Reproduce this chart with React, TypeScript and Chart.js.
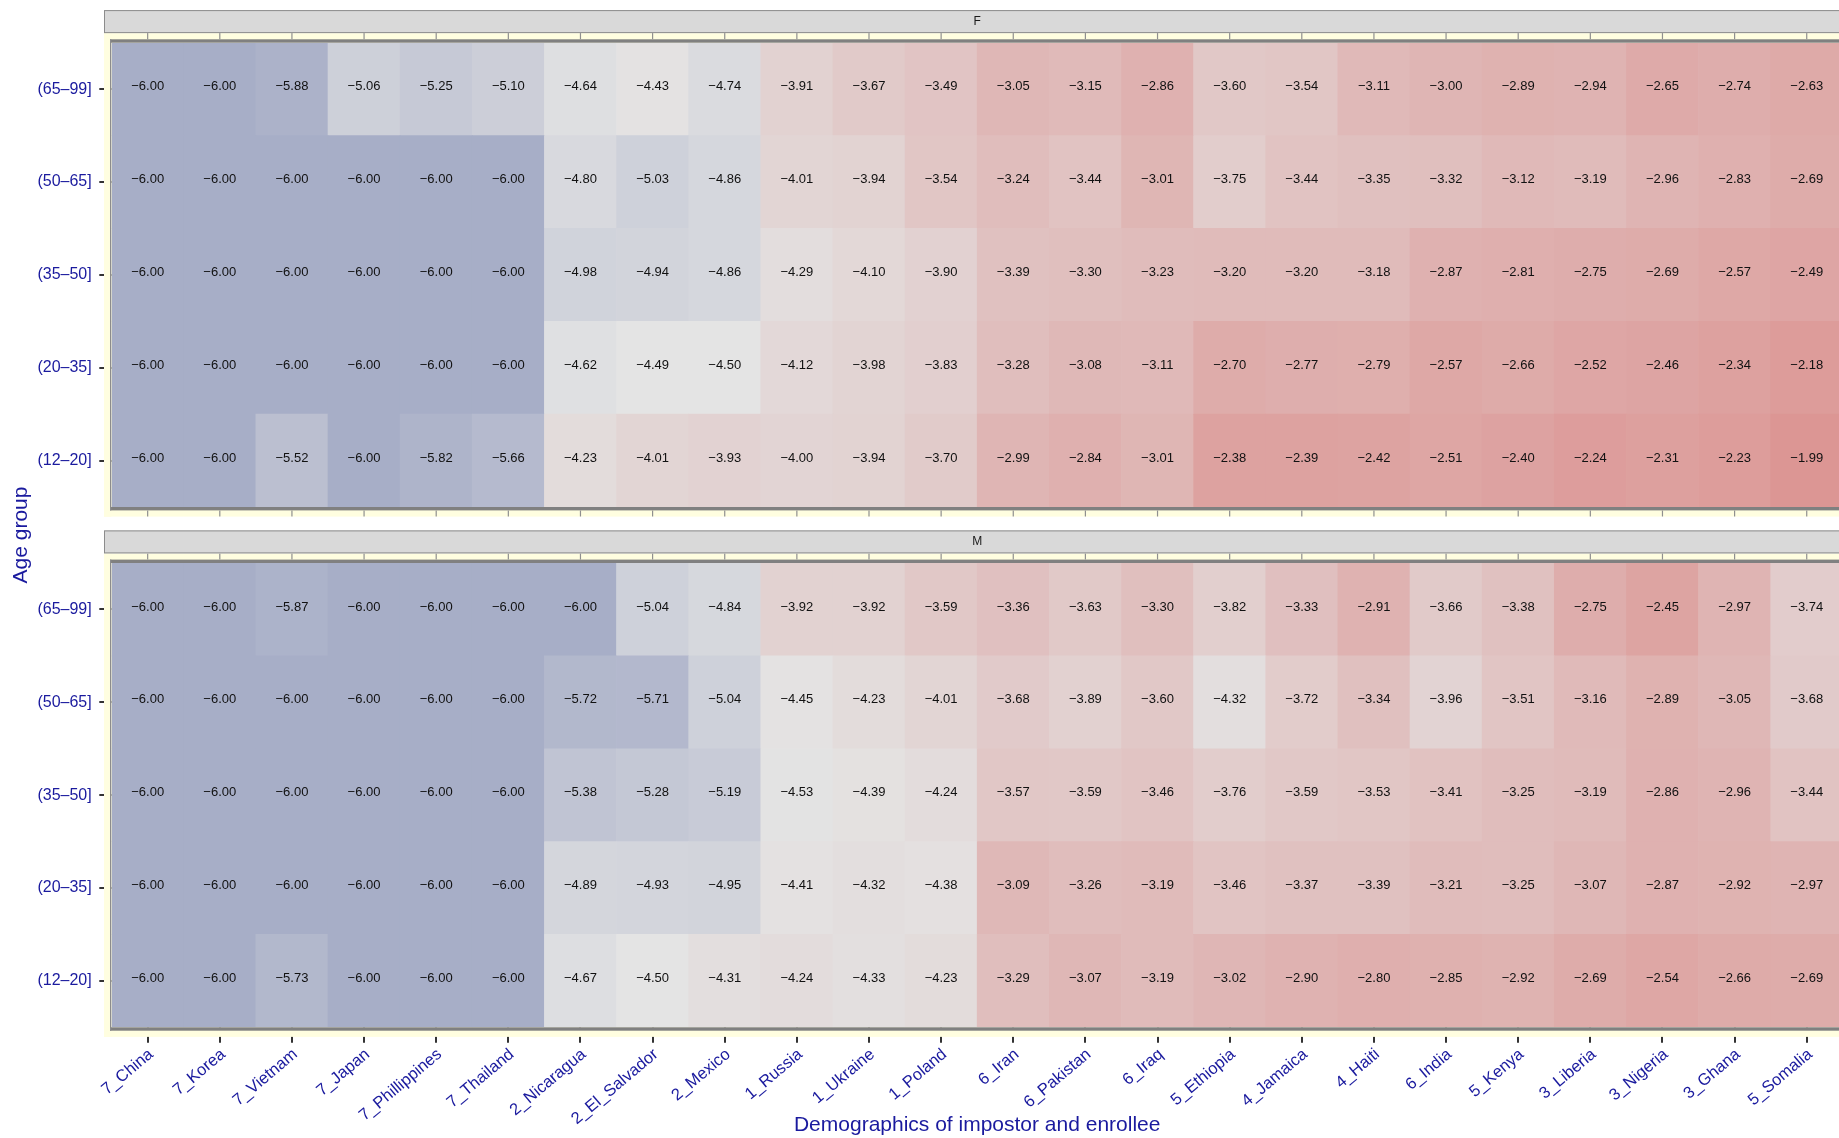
import React, { useEffect, useRef } from "react";
import { Chart, registerables } from "chart.js";

Chart.register(...registerables);

// ---------------- DATA ----------------
const countries = [
  "7_China", "7_Korea", "7_Vietnam", "7_Japan", "7_Phillippines", "7_Thailand",
  "2_Nicaragua", "2_El_Salvador", "2_Mexico", "1_Russia", "1_Ukraine", "1_Poland",
  "6_Iran", "6_Pakistan", "6_Iraq", "5_Ethiopia", "4_Jamaica", "4_Haiti",
  "6_India", "5_Kenya", "3_Liberia", "3_Nigeria", "3_Ghana", "5_Somalia",
];

// bottom to top
const ageGroups = ["(12–20]", "(20–35]", "(35–50]", "(50–65]", "(65–99]"];

const panelNames = ["F", "M"];

// Female panel
const F_65_99 = [-6.00, -6.00, -5.88, -5.06, -5.25, -5.10, -4.64, -4.43, -4.74, -3.91, -3.67, -3.49, -3.05, -3.15, -2.86, -3.60, -3.54, -3.11, -3.00, -2.89, -2.94, -2.65, -2.74, -2.63];
const F_50_65 = [-6.00, -6.00, -6.00, -6.00, -6.00, -6.00, -4.80, -5.03, -4.86, -4.01, -3.94, -3.54, -3.24, -3.44, -3.01, -3.75, -3.44, -3.35, -3.32, -3.12, -3.19, -2.96, -2.83, -2.69];
const F_35_50 = [-6.00, -6.00, -6.00, -6.00, -6.00, -6.00, -4.98, -4.94, -4.86, -4.29, -4.10, -3.90, -3.39, -3.30, -3.23, -3.20, -3.20, -3.18, -2.87, -2.81, -2.75, -2.69, -2.57, -2.49];
const F_20_35 = [-6.00, -6.00, -6.00, -6.00, -6.00, -6.00, -4.62, -4.49, -4.50, -4.12, -3.98, -3.83, -3.28, -3.08, -3.11, -2.70, -2.77, -2.79, -2.57, -2.66, -2.52, -2.46, -2.34, -2.18];
const F_12_20 = [-6.00, -6.00, -5.52, -6.00, -5.82, -5.66, -4.23, -4.01, -3.93, -4.00, -3.94, -3.70, -2.99, -2.84, -3.01, -2.38, -2.39, -2.42, -2.51, -2.40, -2.24, -2.31, -2.23, -1.99];

// Male panel
const M_65_99 = [-6.00, -6.00, -5.87, -6.00, -6.00, -6.00, -6.00, -5.04, -4.84, -3.92, -3.92, -3.59, -3.36, -3.63, -3.30, -3.82, -3.33, -2.91, -3.66, -3.38, -2.75, -2.45, -2.97, -3.74];
const M_50_65 = [-6.00, -6.00, -6.00, -6.00, -6.00, -6.00, -5.72, -5.71, -5.04, -4.45, -4.23, -4.01, -3.68, -3.89, -3.60, -4.32, -3.72, -3.34, -3.96, -3.51, -3.16, -2.89, -3.05, -3.68];
const M_35_50 = [-6.00, -6.00, -6.00, -6.00, -6.00, -6.00, -5.38, -5.28, -5.19, -4.53, -4.39, -4.24, -3.57, -3.59, -3.46, -3.76, -3.59, -3.53, -3.41, -3.25, -3.19, -2.86, -2.96, -3.44];
const M_20_35 = [-6.00, -6.00, -6.00, -6.00, -6.00, -6.00, -4.89, -4.93, -4.95, -4.41, -4.32, -4.38, -3.09, -3.26, -3.19, -3.46, -3.37, -3.39, -3.21, -3.25, -3.07, -2.87, -2.92, -2.97];
const M_12_20 = [-6.00, -6.00, -5.73, -6.00, -6.00, -6.00, -4.67, -4.50, -4.31, -4.24, -4.33, -4.23, -3.29, -3.07, -3.19, -3.02, -2.90, -2.80, -2.85, -2.92, -2.69, -2.54, -2.66, -2.69];

const femaleRows = [F_12_20, F_20_35, F_35_50, F_50_65, F_65_99];
const maleRows = [M_12_20, M_20_35, M_35_50, M_50_65, M_65_99];

const xTitle = "Demographics of impostor and enrollee";
const yTitle = "Age group";

// ---------------- STYLE / LAYOUT ----------------
const GAP = 0.603; // vertical gap between facets, in row units
const CANVAS_W = 1860;
const CANVAS_H = 1138;
const AREA_LEFT = 111.6;
const AREA_RIGHT = 1842.8;
const AREA_TOP = 42.7;
const AREA_BOTTOM = 1027.3;
const BLUE = "#1a1a9e";
const FONT = "'Liberation Sans', Arial, Helvetica, sans-serif";

const colorStops: [number, number[]][] = [
  [-6.0, [167, 174, 199]],
  [-4.5, [228, 228, 228]],
  [-2.0, [220, 150, 148]],
  [-1.5, [217, 136, 134]],
];

function fillColor(v: number): string {
  if (v <= colorStops[0][0]) return `rgb(${colorStops[0][1].join(",")})`;
  for (let i = 1; i < colorStops.length; i++) {
    const [v1, c1] = colorStops[i];
    const [v0, c0] = colorStops[i - 1];
    if (v <= v1) {
      const t = (v - v0) / (v1 - v0);
      const c = c0.map((a, k) => Math.round(a + (c1[k] - a) * t));
      return `rgb(${c.join(",")})`;
    }
  }
  return `rgb(${colorStops[colorStops.length - 1][1].join(",")})`;
}

function fmt(v: number): string {
  return v.toFixed(2).replace("-", "\u2212");
}

const facetPlugin = {
  id: "facetFrame",
  afterDatasetsDraw(chart: any) {
    const ctx = chart.ctx as CanvasRenderingContext2D;
    const xs = chart.scales.x;
    const ys = chart.scales.y;
    const left = chart.chartArea.left;
    const right = chart.chartArea.right;
    const DARK = 3.4;
    const BAND = 6.2;
    const STRIP = 23;
    const panels = [
      { name: panelNames[0], top: ys.getPixelForValue(10 + GAP), bottom: ys.getPixelForValue(5 + GAP), bottomTicks: true },
      { name: panelNames[1], top: ys.getPixelForValue(5), bottom: ys.getPixelForValue(0), bottomTicks: false },
    ];
    ctx.save();
    for (const p of panels) {
      const yTopBand = p.top - DARK - BAND;
      const yBotBand = p.bottom + DARK + BAND;
      const xl = left - 7.6;
      const xr = right + 40;
      // yellow background frame
      ctx.fillStyle = "#FFFEE0";
      ctx.fillRect(xl, yTopBand, xr - xl, BAND + DARK);
      ctx.fillRect(xl, p.bottom, xr - xl, BAND + DARK);
      ctx.fillRect(xl, yTopBand, 7.6, yBotBand - yTopBand);
      // dark lines top/bottom
      ctx.fillStyle = "#808080";
      ctx.fillRect(left - 1.6, p.top - DARK, xr - left, DARK);
      ctx.fillRect(left - 1.6, p.bottom, xr - left, DARK);
      // thin left line
      ctx.fillStyle = "#8c8c8c";
      ctx.fillRect(left - 1.6, p.top - DARK, 1.3, p.bottom - p.top + 2 * DARK);
      // light ticks in yellow bands
      ctx.strokeStyle = "#8f8f8f";
      ctx.lineWidth = 1.2;
      for (let i = 0; i < countries.length; i++) {
        const x = xs.getPixelForValue(i);
        ctx.beginPath();
        ctx.moveTo(x, yTopBand);
        ctx.lineTo(x, p.top - DARK);
        if (p.bottomTicks) {
          ctx.moveTo(x, p.bottom + DARK);
          ctx.lineTo(x, yBotBand);
        }
        ctx.stroke();
      }
      // strip
      const sTop = yTopBand - STRIP;
      ctx.fillStyle = "#D9D9D9";
      ctx.fillRect(xl, sTop, xr - xl, STRIP);
      ctx.strokeStyle = "#8c8c8c";
      ctx.lineWidth = 1;
      ctx.strokeRect(xl + 0.5, sTop + 0.5, xr - xl, STRIP - 1);
      ctx.fillStyle = "#1a1a1a";
      ctx.font = `12px ${FONT}`;
      ctx.textAlign = "center";
      ctx.textBaseline = "middle";
      ctx.fillText(p.name, (left + right) / 2, sTop + STRIP / 2);
    }

    // cell labels
    ctx.fillStyle = "#111111";
    ctx.font = `13px ${FONT}`;
    ctx.textAlign = "center";
    ctx.textBaseline = "middle";
    chart.data.datasets.forEach((ds: any, i: number) => {
      const meta = chart.getDatasetMeta(i);
      meta.data.forEach((el: any, j: number) => {
        const { x, y, base } = el.getProps(["x", "y", "base"], true);
        ctx.fillText(fmt(ds.values[j]), x, (y + base) / 2 - 2.5);
      });
    });
    ctx.restore();
  },
};

function buildDatasets() {
  const datasets: any[] = [];
  [femaleRows, maleRows].forEach((rows, p) => {
    const offset = p === 0 ? 5 + GAP : 0;
    rows.forEach((vals, r) => {
      datasets.push({
        label: `${panelNames[p]} ${ageGroups[r]}`,
        data: vals.map(() => [offset + r, offset + r + 1]),
        values: vals,
        backgroundColor: vals.map(fillColor),
        borderWidth: 0,
        borderSkipped: false,
        barPercentage: 1,
        categoryPercentage: 1,
        grouped: false,
      });
    });
  });
  return datasets;
}

const tickValues: number[] = [];
const tickLabelMap: Record<string, string> = {};
[0, 5 + GAP].forEach((offset) => {
  ageGroups.forEach((g, r) => {
    const v = offset + r + 0.5;
    tickValues.push(v);
    tickLabelMap[v.toFixed(3)] = g;
  });
});

export default function App() {
  const ref = useRef<HTMLCanvasElement | null>(null);
  useEffect(() => {
    if (!ref.current) return;
    Chart.defaults.font.family = FONT;
    const chart = new Chart(ref.current, {
      type: "bar",
      data: { labels: countries, datasets: buildDatasets() },
      options: {
        animation: false,
        responsive: false,
        devicePixelRatio: 1,
        events: [],
        layout: {
          padding: { top: AREA_TOP, right: CANVAS_W - AREA_RIGHT, bottom: 0, left: 0 },
        },
        plugins: { legend: { display: false }, tooltip: { enabled: false } },
        scales: {
          x: {
            type: "category",
            offset: true,
            grid: {
              offset: false,
              drawOnChartArea: false,
              drawTicks: true,
              tickLength: 15.4,
              color: "#333333",
              lineWidth: 2,
            },
            border: { display: false },
            ticks: {
              autoSkip: false,
              maxRotation: 40,
              minRotation: 40,
              labelOffset: 3.5,
              padding: 2,
              color: BLUE,
              font: { size: 16.5 },
            },
            title: {
              display: true,
              text: xTitle,
              color: BLUE,
              font: { size: 21 },
              padding: { top: 0, bottom: 0 },
            },
            afterFit: (scale: any) => {
              scale.height = CANVAS_H - AREA_BOTTOM;
            },
          },
          y: {
            type: "linear",
            min: 0,
            max: 10 + GAP,
            grid: {
              drawOnChartArea: false,
              drawTicks: true,
              tickLength: 12.3,
              color: "#333333",
              lineWidth: 2,
            },
            border: { display: false },
            afterBuildTicks: (scale: any) => {
              scale.ticks = tickValues.map((v) => ({ value: v }));
            },
            ticks: {
              padding: 7.6,
              color: BLUE,
              font: { size: 16 },
              callback: (value: any) => tickLabelMap[Number(value).toFixed(3)] ?? "",
            },
            title: {
              display: true,
              text: yTitle,
              color: BLUE,
              font: { size: 21 },
              padding: { top: 9, bottom: 0 },
            },
            afterFit: (scale: any) => {
              scale.width = AREA_LEFT;
            },
          },
        },
      } as any,
      plugins: [facetPlugin],
    });
    return () => chart.destroy();
  }, []);

  return (
    <div
      style={{
        position: "fixed",
        left: 0,
        top: 0,
        width: 1839,
        height: 1138,
        overflow: "hidden",
        background: "#ffffff",
      }}
    >
      <canvas ref={ref} width={CANVAS_W} height={CANVAS_H} style={{ display: "block" }} />
    </div>
  );
}
